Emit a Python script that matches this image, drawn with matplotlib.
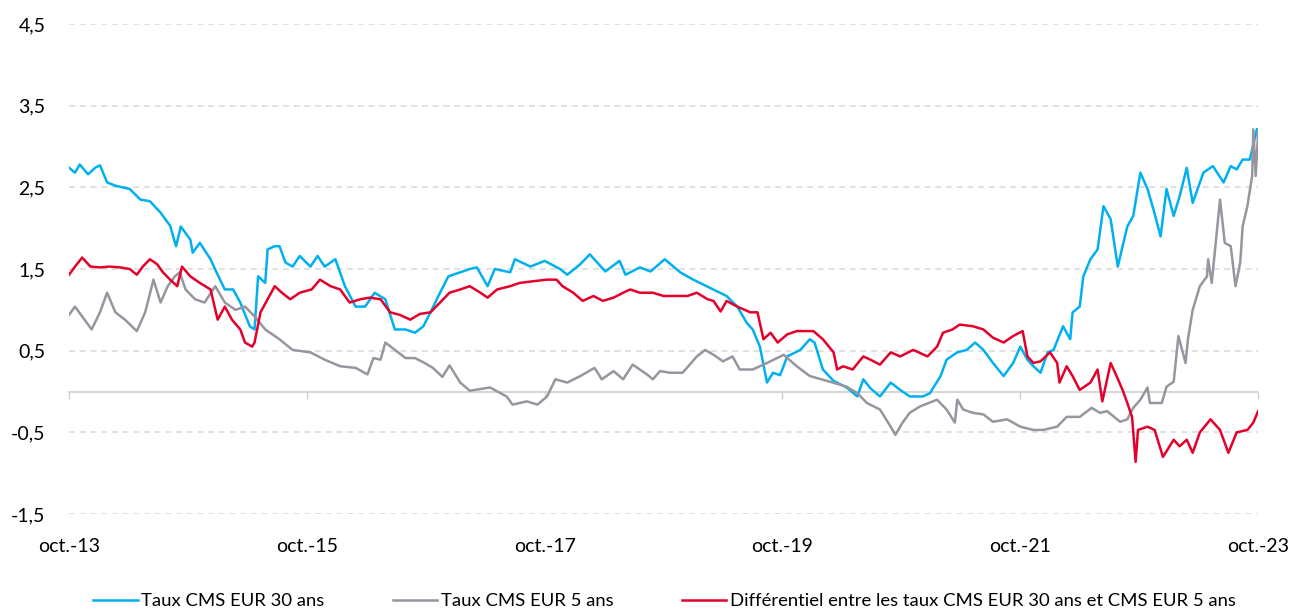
import matplotlib
matplotlib.use("Agg")
import matplotlib.pyplot as plt

# dates as decimal years (oct. 2013 = 2013.75)
t_30 = [2013.75, 2013.80, 2013.84, 2013.91, 2013.97, 2014.01, 2014.07, 2014.14, 2014.20, 2014.26,
        2014.35, 2014.43, 2014.52, 2014.60, 2014.65, 2014.69, 2014.77, 2014.79, 2014.85, 2014.94,
        2014.99, 2015.06, 2015.13, 2015.19, 2015.27, 2015.31, 2015.34, 2015.40, 2015.42, 2015.48,
        2015.52, 2015.57, 2015.63, 2015.69, 2015.78, 2015.84, 2015.90, 2015.99, 2016.07, 2016.16,
        2016.24, 2016.32, 2016.41, 2016.49, 2016.58, 2016.66, 2016.73, 2016.79, 2016.87, 2016.94,
        2017.04, 2017.12, 2017.18, 2017.27, 2017.33, 2017.46, 2017.50, 2017.63, 2017.75, 2017.88,
        2017.94, 2018.05, 2018.13, 2018.26, 2018.38, 2018.43, 2018.55, 2018.64, 2018.76, 2018.89,
        2019.00, 2019.14, 2019.28, 2019.37, 2019.45, 2019.50, 2019.56, 2019.62, 2019.67, 2019.73,
        2019.79, 2019.90, 2019.98, 2020.02, 2020.09, 2020.18, 2020.29, 2020.38, 2020.43, 2020.49,
        2020.57, 2020.66, 2020.74, 2020.82, 2020.93, 2020.99, 2021.08, 2021.13, 2021.22, 2021.30,
        2021.37, 2021.44, 2021.52, 2021.61, 2021.69, 2021.75, 2021.81, 2021.86, 2021.92, 2021.98,
        2022.03, 2022.11, 2022.17, 2022.19, 2022.25, 2022.28, 2022.34, 2022.40, 2022.45, 2022.51,
        2022.57, 2022.65, 2022.70, 2022.76, 2022.82, 2022.87, 2022.93, 2022.98, 2023.04, 2023.09,
        2023.15, 2023.20, 2023.29, 2023.37, 2023.46, 2023.52, 2023.57, 2023.62, 2023.68, 2023.74]
cms_30 = [2.74, 2.68, 2.78, 2.66, 2.74, 2.77, 2.56, 2.52, 2.50, 2.48,
          2.35, 2.33, 2.19, 2.03, 1.78, 2.02, 1.86, 1.70, 1.82, 1.62,
          1.46, 1.25, 1.25, 1.09, 0.80, 0.76, 1.41, 1.33, 1.74, 1.78,
          1.78, 1.58, 1.53, 1.66, 1.53, 1.66, 1.53, 1.62, 1.29, 1.04,
          1.04, 1.21, 1.13, 0.76, 0.76, 0.72, 0.80, 0.97, 1.21, 1.41,
          1.46, 1.50, 1.52, 1.29, 1.50, 1.46, 1.62, 1.53, 1.60, 1.50,
          1.43, 1.56, 1.68, 1.47, 1.60, 1.43, 1.52, 1.47, 1.62, 1.46,
          1.37, 1.27, 1.17, 1.04, 0.84, 0.76, 0.55, 0.11, 0.23, 0.20,
          0.43, 0.51, 0.64, 0.60, 0.27, 0.13, 0.05, -0.06, 0.15, 0.04,
          -0.06, 0.11, 0.02, -0.06, -0.06, -0.02, 0.19, 0.39, 0.48, 0.51,
          0.60, 0.51, 0.35, 0.19, 0.35, 0.55, 0.39, 0.31, 0.23, 0.48,
          0.51, 0.80, 0.64, 0.97, 1.04, 1.41, 1.62, 1.74, 2.27, 2.11,
          1.53, 2.02, 2.15, 2.68, 2.48, 2.23, 1.90, 2.48, 2.15, 2.39,
          2.74, 2.31, 2.68, 2.76, 2.56, 2.76, 2.72, 2.84, 2.84, 3.21]

t_5 = [2013.75, 2013.80, 2013.88, 2013.94, 2014.01, 2014.07, 2014.14, 2014.22, 2014.32, 2014.39,
       2014.46, 2014.52, 2014.58, 2014.64, 2014.68, 2014.73, 2014.81, 2014.89, 2014.98, 2015.06,
       2015.15, 2015.23, 2015.31, 2015.40, 2015.52, 2015.63, 2015.78, 2015.90, 2016.03, 2016.16,
       2016.26, 2016.31, 2016.37, 2016.41, 2016.49, 2016.58, 2016.66, 2016.74, 2016.81, 2016.89,
       2016.95, 2017.04, 2017.12, 2017.29, 2017.43, 2017.48, 2017.60, 2017.69, 2017.77, 2017.84,
       2017.94, 2018.05, 2018.17, 2018.23, 2018.33, 2018.41, 2018.49, 2018.61, 2018.66, 2018.72,
       2018.81, 2018.91, 2019.03, 2019.10, 2019.17, 2019.25, 2019.33, 2019.39, 2019.50, 2019.62,
       2019.76, 2019.87, 2019.98, 2020.15, 2020.29, 2020.38, 2020.46, 2020.57, 2020.66, 2020.70,
       2020.76, 2020.82, 2020.91, 2021.05, 2021.13, 2021.20, 2021.22, 2021.27, 2021.35, 2021.44,
       2021.52, 2021.64, 2021.75, 2021.86, 2021.94, 2022.06, 2022.14, 2022.25, 2022.35, 2022.42,
       2022.48, 2022.59, 2022.65, 2022.70, 2022.76, 2022.82, 2022.84, 2022.94, 2022.98, 2023.04,
       2023.08, 2023.14, 2023.16, 2023.20, 2023.26, 2023.32, 2023.33, 2023.36, 2023.43, 2023.47,
       2023.52, 2023.56, 2023.60, 2023.62, 2023.66, 2023.70, 2023.71, 2023.73, 2023.75]
cms_5 = [0.94, 1.04, 0.88, 0.76, 0.97, 1.21, 0.97, 0.88, 0.74, 0.97,
         1.37, 1.09, 1.29, 1.41, 1.46, 1.25, 1.13, 1.09, 1.29, 1.09,
         1.00, 1.04, 0.92, 0.76, 0.64, 0.51, 0.48, 0.39, 0.31, 0.29,
         0.21, 0.41, 0.39, 0.60, 0.51, 0.41, 0.41, 0.35, 0.29, 0.18,
         0.32, 0.11, 0.01, 0.05, -0.06, -0.16, -0.12, -0.16, -0.06, 0.15,
         0.11, 0.19, 0.29, 0.15, 0.25, 0.15, 0.33, 0.21, 0.15, 0.25,
         0.23, 0.23, 0.43, 0.51, 0.45, 0.37, 0.43, 0.27, 0.27, 0.35,
         0.45, 0.31, 0.19, 0.12, 0.06, -0.02, -0.14, -0.22, -0.43, -0.53,
         -0.38, -0.26, -0.18, -0.10, -0.22, -0.38, -0.10, -0.22, -0.26, -0.28,
         -0.37, -0.34, -0.43, -0.47, -0.47, -0.43, -0.31, -0.31, -0.20, -0.26,
         -0.24, -0.37, -0.34, -0.20, -0.10, 0.05, -0.14, -0.14, 0.06, 0.12,
         0.68, 0.35, 0.64, 1.00, 1.29, 1.41, 1.62, 1.33, 2.35, 1.82,
         1.78, 1.29, 1.58, 2.02, 2.27, 2.64, 3.21, 2.64, 3.17]

t_diff = [2013.75, 2013.80, 2013.86, 2013.93, 2014.01, 2014.09, 2014.18, 2014.26, 2014.32, 2014.37,
          2014.43, 2014.49, 2014.54, 2014.60, 2014.66, 2014.70, 2014.77, 2014.85, 2014.94, 2015.00,
          2015.06, 2015.12, 2015.19, 2015.23, 2015.29, 2015.31, 2015.36, 2015.42, 2015.48, 2015.54,
          2015.61, 2015.69, 2015.79, 2015.86, 2015.95, 2016.03, 2016.11, 2016.20, 2016.28, 2016.37,
          2016.45, 2016.53, 2016.62, 2016.70, 2016.79, 2016.87, 2016.95, 2017.04, 2017.12, 2017.21,
          2017.27, 2017.35, 2017.46, 2017.54, 2017.65, 2017.77, 2017.85, 2017.90, 2017.99, 2018.07,
          2018.16, 2018.24, 2018.33, 2018.41, 2018.47, 2018.55, 2018.66, 2018.75, 2018.86, 2018.95,
          2019.03, 2019.12, 2019.17, 2019.23, 2019.28, 2019.37, 2019.48, 2019.54, 2019.59, 2019.65,
          2019.71, 2019.79, 2019.87, 2020.01, 2020.09, 2020.18, 2020.21, 2020.26, 2020.34, 2020.43,
          2020.49, 2020.57, 2020.66, 2020.74, 2020.85, 2020.97, 2021.05, 2021.10, 2021.18, 2021.24,
          2021.35, 2021.44, 2021.52, 2021.61, 2021.69, 2021.77, 2021.81, 2021.86, 2021.92, 2022.00,
          2022.06, 2022.08, 2022.14, 2022.19, 2022.25, 2022.34, 2022.40, 2022.44, 2022.51, 2022.56,
          2022.61, 2022.65, 2022.69, 2022.72, 2022.74, 2022.82, 2022.88, 2022.95, 2023.04, 2023.09,
          2023.15, 2023.20, 2023.26, 2023.35, 2023.43, 2023.50, 2023.57, 2023.66, 2023.71, 2023.75]
diff_30_5 = [1.43, 1.53, 1.64, 1.53, 1.52, 1.53, 1.52, 1.50, 1.43, 1.53,
             1.62, 1.56, 1.46, 1.37, 1.29, 1.53, 1.41, 1.33, 1.25, 0.88,
             1.04, 0.88, 0.76, 0.60, 0.55, 0.60, 0.97, 1.13, 1.29, 1.21,
             1.13, 1.21, 1.25, 1.37, 1.29, 1.25, 1.09, 1.13, 1.15, 1.13,
             0.97, 0.94, 0.88, 0.95, 0.97, 1.09, 1.21, 1.25, 1.29, 1.21,
             1.15, 1.25, 1.29, 1.33, 1.35, 1.37, 1.37, 1.29, 1.21, 1.11,
             1.17, 1.11, 1.15, 1.21, 1.25, 1.21, 1.21, 1.17, 1.17, 1.17,
             1.21, 1.13, 1.11, 0.98, 1.11, 1.04, 0.97, 0.97, 0.64, 0.72,
             0.60, 0.70, 0.74, 0.74, 0.64, 0.48, 0.27, 0.31, 0.27, 0.43,
             0.39, 0.33, 0.48, 0.43, 0.51, 0.43, 0.55, 0.72, 0.76, 0.82,
             0.80, 0.76, 0.66, 0.60, 0.68, 0.74, 0.43, 0.35, 0.37, 0.48,
             0.35, 0.11, 0.31, 0.19, 0.02, 0.11, 0.27, -0.12, 0.35, 0.19,
             0.02, -0.14, -0.31, -0.86, -0.47, -0.43, -0.47, -0.80, -0.59, -0.67,
             -0.59, -0.75, -0.50, -0.34, -0.47, -0.75, -0.50, -0.47, -0.38, -0.24]

y_ticks = [-1.5, -0.5, 0.5, 1.5, 2.5, 3.5, 4.5]
x_ticks = [2013.75, 2015.75, 2017.75, 2019.75, 2021.75, 2023.75]
x_labels = ["oct.-13", "oct.-15", "oct.-17", "oct.-19", "oct.-21", "oct.-23"]

plt.rcParams["font.family"] = ["Lato", "DejaVu Sans"]

fig = plt.figure(figsize=(12.93, 6.12), dpi=100)
ax = fig.add_axes([0.0534, 0.160, 0.9196, 0.8008])

ax.plot(t_30, cms_30, color="#00B0F0", lw=1.8, label="Taux CMS EUR 30 ans")
ax.plot(t_5, cms_5, color="#97959F", lw=1.8, label="Taux CMS EUR 5 ans")
ax.plot(t_diff, diff_30_5, color="#E4002B", lw=1.8,
        label="Différentiel entre les taux CMS EUR 30 ans et CMS EUR 5 ans")

ax.set_xlim(2013.75, 2023.75)
ax.set_ylim(-1.5, 4.5)
ax.set_yticks(y_ticks)
ax.set_yticklabels([f"{v:.1f}".replace(".", ",") for v in y_ticks])
ax.set_xticks(x_ticks)
ax.set_xticklabels(x_labels)
ax.tick_params(axis="both", length=0, labelsize=14, colors="#000000")
ax.tick_params(axis="y", pad=17)
ax.tick_params(axis="x", pad=17)
ax.grid(axis="y", color="#D9D9D9", linestyle=(0, (4, 3)), lw=1.1)
ax.set_axisbelow(True)
for s in ax.spines.values():
    s.set_visible(False)

# zero line with tick marks
zero_ax = ax.secondary_xaxis(0.25)
zero_ax.set_xticks(x_ticks)
zero_ax.tick_params(axis="x", length=5, width=1, color="#D0D0D0", labelbottom=False, direction="out")
zero_ax.spines["bottom"].set_color("#D0D0D0")
zero_ax.spines["bottom"].set_linewidth(1.2)

fig.legend(loc="center", bbox_to_anchor=(0.514, 0.018), ncol=3, frameon=False,
           fontsize=13.3, handlelength=2.4, handletextpad=0.2, columnspacing=3.7,
           borderaxespad=0)

fig.savefig("out.png", dpi=100)
